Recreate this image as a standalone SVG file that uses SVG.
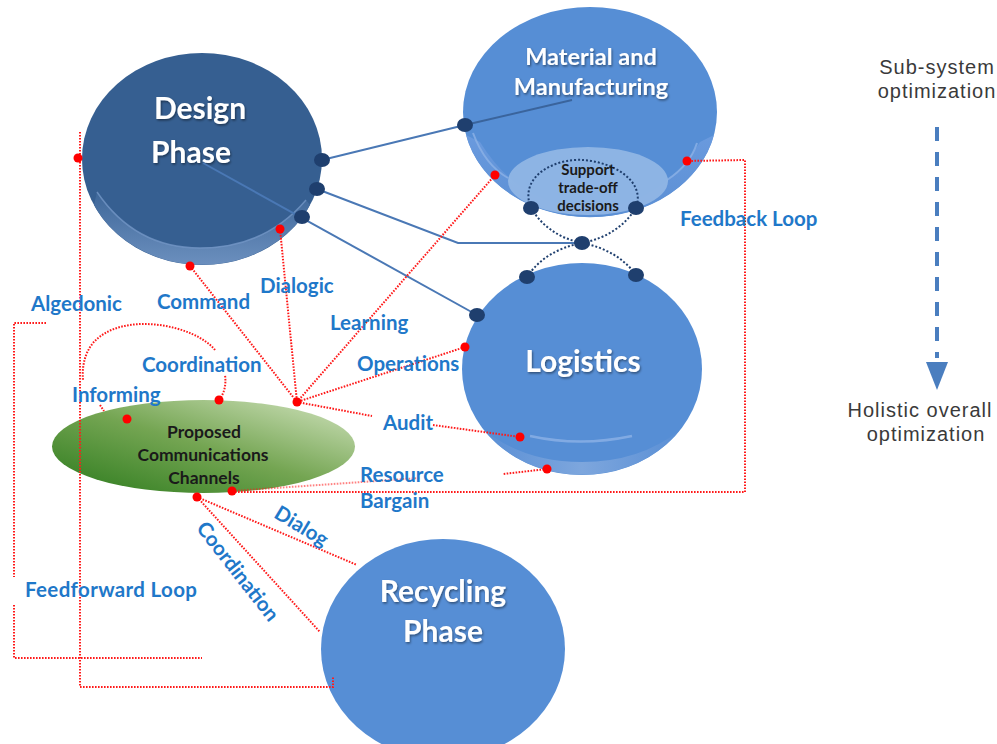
<svg xmlns="http://www.w3.org/2000/svg" width="997" height="744" viewBox="0 0 997 744">
<defs>
<style>
.lbl{font-family:Lato,"Liberation Sans",sans-serif;font-weight:700;font-size:20.5px;fill:#1f78c9}
.nt{font-family:Lato,"Liberation Sans",sans-serif;font-weight:700;fill:#ffffff;text-anchor:middle}
.ct{font-family:Lato,"Liberation Sans",sans-serif;font-weight:700;fill:#1a1a1a;text-anchor:middle}
.rt{font-family:"Liberation Sans",Arial,sans-serif;font-size:20px;fill:#3a3a3a;text-anchor:middle;letter-spacing:1px}
.red{fill:none;stroke:#ff1a1a;stroke-width:2;stroke-dasharray:1.6 1.4}
.rdot{fill:#ff0000}
.blu{fill:none;stroke:#4a78b5;stroke-width:2}
.ndot{fill:#1f3f6e}
.nav{fill:none;stroke:#1f3f6e;stroke-width:2;stroke-dasharray:2 2}
</style>
<filter id="sh" x="-10%" y="-20%" width="130%" height="150%">
<feDropShadow dx="1" dy="1.5" stdDeviation="1" flood-color="#000" flood-opacity="0.45"/>
</filter>
<linearGradient id="gGreen" x1="0" y1="1" x2="1" y2="0">
<stop offset="0" stop-color="#2b7a1c"/>
<stop offset="0.5" stop-color="#74a552"/>
<stop offset="1" stop-color="#d3e4c0"/>
</linearGradient>
<linearGradient id="gBevD" x1="0" y1="0" x2="0" y2="1">
<stop offset="0" stop-color="#3e6799"/>
<stop offset="1" stop-color="#6b8fbe"/>
</linearGradient>
<linearGradient id="gBevM" x1="0" y1="0" x2="0" y2="1">
<stop offset="0" stop-color="#6a9ade"/>
<stop offset="1" stop-color="#5b8fd4"/>
</linearGradient>
<linearGradient id="gBevL" x1="0" y1="0" x2="1" y2="0">
<stop offset="0" stop-color="#5a8fd5"/>
<stop offset="0.5" stop-color="#82a9de"/>
<stop offset="1" stop-color="#5a8fd5"/>
</linearGradient>
</defs>
<rect width="997" height="744" fill="#ffffff"/>

<g id="node-design">
<ellipse cx="202" cy="159" rx="120" ry="106" fill="#365f91"/>
<path d="M94,205 A120,106 0 0 0 310,205 L306,200 Q265,248 200,248 Q135,248 97,192 Z" fill="url(#gBevD)"/>
<path d="M97,192 Q135,248 200,248 Q265,248 306,200" fill="none" stroke="#7396c6" stroke-width="1.5" opacity="0.8"/>
<text class="nt" x="200" y="119" font-size="30" filter="url(#sh)">Design</text>
<text class="nt" x="191" y="163" font-size="30" filter="url(#sh)">Phase</text>
</g>

<g id="node-material">
<ellipse cx="590" cy="112" rx="127" ry="105" fill="#568ed5"/>
<path d="M466,135 A127,105 0 0 0 714,135 L700,142 Q660,207 590,208 Q520,207 480,142 Z" fill="url(#gBevM)"/>
<path d="M473,133 Q485,165 508,178" fill="none" stroke="#8cb2e6" stroke-width="2" opacity="0.8"/>
<path d="M697,143 Q690,165 667,180" fill="none" stroke="#8cb2e6" stroke-width="2" opacity="0.8"/>
<ellipse cx="588" cy="181" rx="80" ry="34" fill="#93b8e6" opacity="0.9"/>
<text class="nt" x="591" y="65" font-size="23.5" filter="url(#sh)">Material and</text>
<text class="nt" x="591" y="95" font-size="23.5" filter="url(#sh)">Manufacturing</text>
</g>

<g id="node-tradeoff">
<path class="nav" d="M531,208 C518,176 556,158 583,160 C612,162 646,180 636,208"/>
<path class="nav" d="M531,208 Q548,236 582,243 Q618,236 636,208"/>
<path class="nav" d="M527,277 Q545,250 582,243 Q618,250 636,275"/>
<text class="ct" x="588" y="175" font-size="15">Support</text>
<text class="ct" x="588" y="193" font-size="15">trade-off</text>
<text class="ct" x="588" y="211" font-size="15">decisions</text>
</g>

<g id="node-logistics">
<ellipse cx="582" cy="369" rx="120" ry="106" fill="#568ed5"/>
<path d="M484,430 A120,106 0 0 0 680,430 Q640,462 582,462 Q524,462 484,430 Z" fill="url(#gBevL)" opacity="0.9"/>
<path d="M530,436 Q580,447 632,436" fill="none" stroke="#8cb2e6" stroke-width="2.5" opacity="0.8"/>
<text class="nt" x="583" y="372" font-size="30" filter="url(#sh)">Logistics</text>
</g>

<g id="node-recycling">
<ellipse cx="443" cy="649" rx="122" ry="110" fill="#568ed5"/>
<text class="nt" x="443" y="602" font-size="30" filter="url(#sh)">Recycling</text>
<text class="nt" x="443" y="642" font-size="30" filter="url(#sh)">Phase</text>
</g>

<g id="node-channels">
<ellipse cx="203.5" cy="446.5" rx="151.5" ry="46.5" fill="url(#gGreen)"/>
<text class="ct" x="204" y="438" font-size="17.5">Proposed</text>
<text class="ct" x="203" y="461" font-size="17.5">Communications</text>
<text class="ct" x="204" y="484" font-size="17.5">Channels</text>
</g>

<g id="connectors">
<polyline class="blu" points="322,160 465,125"/>
<polyline fill="none" stroke="#3a649c" stroke-width="1.8" points="465,125 572,100"/>
<polyline class="blu" points="317,189 458,243 582,243"/>
<polyline class="blu" points="203,163 477,315"/>

<path class="red" d="M190,266 L297,402"/>
<path class="red" d="M280,229 L297,402"/>
<path class="red" d="M495,175 L297,402"/>
<path class="red" d="M465,347 L297,402"/>
<path class="red" d="M297,402 L372,416"/>
<path class="red" d="M433,425 L520,437"/>
<path class="red" d="M547,469 L503,474"/>
<path class="red" d="M232,491 L420,478" opacity="0.55"/>
<path class="red" d="M232,492 L745,492 L745,160 L687,161"/>
<path class="red" d="M219,400 Q227,390 225,375"/>
<path class="red" d="M215,350 C195,325 122,310 93,343 C84,354 82,368 83,380"/>
<path class="red" d="M100,405 L104,411"/>
<path class="red" d="M80,132 L80,687 L333,687 L333,676"/>
<path class="red" d="M46,323 L14,323 L14,577"/>
<path class="red" d="M14,605 L14,658 L202,658"/>
<path class="red" d="M197,497 L357,565"/>
<path class="red" d="M197,497 L320,632"/>

<ellipse class="ndot" cx="322" cy="160" rx="8" ry="7"/>
<ellipse class="ndot" cx="317" cy="189" rx="8" ry="7"/>
<ellipse class="ndot" cx="302" cy="217" rx="8" ry="7"/>
<ellipse class="ndot" cx="465" cy="125" rx="8" ry="7"/>
<ellipse class="ndot" cx="531" cy="208" rx="8" ry="7"/>
<ellipse class="ndot" cx="636" cy="208" rx="8" ry="7"/>
<ellipse class="ndot" cx="582" cy="243" rx="8" ry="7"/>
<ellipse class="ndot" cx="527" cy="277" rx="8" ry="7"/>
<ellipse class="ndot" cx="636" cy="275" rx="8" ry="7"/>
<ellipse class="ndot" cx="477" cy="315" rx="8" ry="7"/>

<circle class="rdot" cx="190" cy="266" r="4.5"/>
<circle class="rdot" cx="280" cy="229" r="4.5"/>
<circle class="rdot" cx="78" cy="158" r="4.5"/>
<circle class="rdot" cx="495" cy="175" r="4.5"/>
<circle class="rdot" cx="687" cy="161" r="4.5"/>
<circle class="rdot" cx="465" cy="347" r="4.5"/>
<circle class="rdot" cx="520" cy="437" r="4.5"/>
<circle class="rdot" cx="547" cy="469" r="4.5"/>
<circle class="rdot" cx="297" cy="402" r="4.5"/>
<circle class="rdot" cx="219" cy="400" r="4.5"/>
<circle class="rdot" cx="127" cy="419" r="4.5"/>
<circle class="rdot" cx="232" cy="491" r="4.5"/>
<circle class="rdot" cx="197" cy="497" r="4.5"/>
</g>

<g id="labels">
<text class="lbl" x="31" y="311">Algedonic</text>
<text class="lbl" x="157" y="309">Command</text>
<text class="lbl" x="260" y="293">Dialogic</text>
<text class="lbl" x="330" y="330">Learning</text>
<text class="lbl" x="142" y="372">Coordination</text>
<text class="lbl" x="72" y="402">Informing</text>
<text class="lbl" x="357" y="371">Operations</text>
<text class="lbl" x="383" y="430">Audit</text>
<text class="lbl" x="680" y="226">Feedback Loop</text>
<text class="lbl" x="360" y="482">Resource</text>
<text class="lbl" x="360" y="508">Bargain</text>
<text class="lbl" x="25" y="597" textLength="172">Feedforward Loop</text>
<text class="lbl" text-anchor="middle" transform="translate(301,527) rotate(31)" y="6">Dialog</text>
<text class="lbl" text-anchor="middle" transform="translate(237,572) rotate(52)" y="6">Coordination</text>
</g>

<g id="scale">
<text class="rt" x="937" y="74">Sub-system</text>
<text class="rt" x="937" y="98">optimization</text>
<line x1="937" y1="127" x2="937" y2="358" stroke="#4a7ebf" stroke-width="4" stroke-dasharray="14 11"/>
<polygon points="926,362 948,362 937,390" fill="#4a7ebf"/>
<text class="rt" x="920" y="417">Holistic overall</text>
<text class="rt" x="926" y="441">optimization</text>
</g>
</svg>
